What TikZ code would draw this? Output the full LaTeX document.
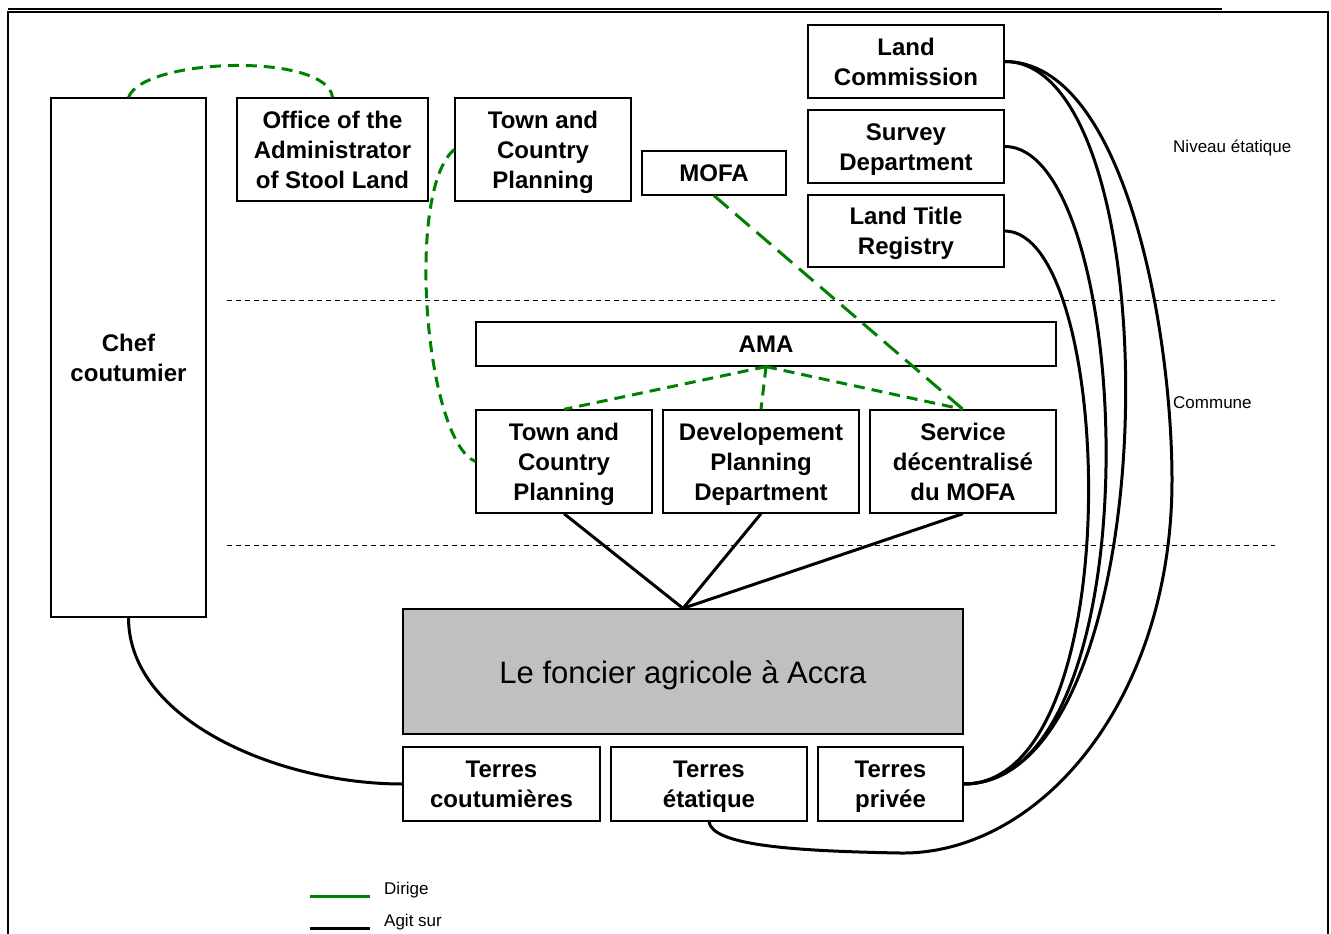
\documentclass[tikz,border=0pt]{standalone}
\usepackage{fontspec}
\setmainfont{Liberation Sans}
\definecolor{dgreen}{RGB}{0,128,0}
\definecolor{fgray}{RGB}{192,192,192}
\newcommand\boxlines[1]{\begin{tabular}[t]{@{}c@{}}\rule{0pt}{26.2pt}#1\end{tabular}}
\begin{document}
\begin{tikzpicture}[x=1pt,y=-1pt,
  box/.style={draw, line width=1.3pt, rectangle, inner sep=0pt,
    font=\bfseries\fontsize{24}{30}\selectfont},
  bigbox/.style={draw, line width=1.3pt, rectangle, inner sep=0pt, align=center,
    font=\fontsize{31}{36}\selectfont,
    execute at begin node={\rule{0pt}{30pt}},
    execute at end node={\rule[-6.8pt]{0pt}{6.8pt}}},
  dirige/.style={draw=dgreen, line width=3pt, dash pattern=on 11pt off 7pt},
  dirigelong/.style={draw=dgreen, line width=3pt, dash pattern=on 19pt off 9pt},
  agit/.style={draw=black, line width=3pt},
  sepline/.style={draw=black, line width=1pt, dash pattern=on 5pt off 4pt},
  small/.style={font=\fontsize{17}{20}\selectfont, inner sep=0pt, anchor=west},
  frame/.style={draw=black, line width=2pt}]
\useasboundingbox (0,0) rectangle (1331,934);
% frame
\coordinate (f1) at (8,934);
\coordinate (f2) at (8,12.5);
\coordinate (f3) at (1328,12.5);
\coordinate (f4) at (1328,934);
\coordinate (f5) at (8,9.5);
\coordinate (f6) at (1222,9.5);
\draw[frame] (f1) -- (f2) -- (f3) -- (f4);
\draw[frame] (f5) -- (f6);
% level separators
\coordinate (s1a) at (227,300);
\coordinate (s1b) at (1275,300);
\coordinate (s2a) at (227,545);
\coordinate (s2b) at (1275,545);
\draw[sepline] (s1a) -- (s1b);
\draw[sepline] (s2a) -- (s2b);
% nodes
\node[box, minimum width=155, minimum height=519] (chef) at (128.5,357.5) {\boxlines{Chef\\coutumier}};
\node[box, minimum width=191, minimum height=103] (office) at (332.5,149.5) {\boxlines{Office of the\\Administrator\\of Stool Land}};
\node[box, minimum width=176, minimum height=103] (tcp1) at (543,149.5) {\boxlines{Town and\\Country\\Planning}};
\node[box, minimum width=144, minimum height=44] (mofa) at (714,173) {\boxlines{MOFA}};
\node[box, minimum width=196, minimum height=73] (lc) at (906,61.5) {\boxlines{Land\\Commission}};
\node[box, minimum width=196, minimum height=73] (sd) at (906,146.5) {\boxlines{Survey\\Department}};
\node[box, minimum width=196, minimum height=72] (ltr) at (906,231) {\boxlines{Land Title\\Registry}};
\node[box, minimum width=580, minimum height=44] (ama) at (766,344) {\boxlines{AMA}};
\node[box, minimum width=176, minimum height=103] (tcp2) at (564,461.5) {\boxlines{Town and\\Country\\Planning}};
\node[box, minimum width=196, minimum height=103] (dpd) at (761,461.5) {\boxlines{Developement\\Planning\\Department}};
\node[box, minimum width=186, minimum height=103] (smofa) at (963,461.5) {\boxlines{Service\\décentralisé\\du MOFA}};
\node[bigbox, fill=fgray, minimum width=560, minimum height=125] (foncier) at (683,671.5) {Le foncier agricole à Accra};
\node[box, minimum width=197, minimum height=74] (tc) at (501.5,784) {\boxlines{Terres\\coutumières}};
\node[box, minimum width=196, minimum height=74] (te) at (709,784) {\boxlines{Terres\\étatique}};
\node[box, minimum width=145, minimum height=74] (tp) at (890.5,784) {\boxlines{Terres\\privée}};
% side labels
\node[small] (niv) at (1173,148) {Niveau étatique};
\node[small] (com) at (1173,403) {Commune};
% green connectors (Dirige)
\draw[dirige] (chef.north) .. controls +(15,-40) and +(-5,-45) .. (office.north);
\draw[dirige] (tcp1.west) .. controls (405,190) and (425,440) .. (tcp2.west);
\draw[dirigelong] (mofa.south) -- (smofa.north);
\draw[dirige] (ama.south) -- (tcp2.north);
\draw[dirige] (ama.south) -- (dpd.north);
\draw[dirige] (ama.south) -- (smofa.north);
% black connectors (Agit sur)
\draw[agit] (tcp2.south) -- (foncier.north);
\draw[agit] (dpd.south) -- (foncier.north);
\draw[agit] (smofa.south) -- (foncier.north);
\draw[agit] (chef.south) .. controls +(0,103) and +(-123,0) .. (tc.west);
\draw[agit] (ltr.east) .. controls +(110,0) and +(168,0) .. (tp.east);
\draw[agit] (sd.east) .. controls +(130,0) and +(195,0) .. (tp.east);
\draw[agit] (lc.east) .. controls +(170,0) and +(206,0) .. (tp.east);
\draw[agit] (lc.east) .. controls +(120,0) and (1172,330) .. (1172,480)
  .. controls (1172,700) and (1040,855) .. (900,853)
  .. controls (790,851) and (712,845) .. (te.south);
% legend
\coordinate (lg1a) at (310,896);
\coordinate (lg1b) at (370,896);
\coordinate (lg2a) at (310,928);
\coordinate (lg2b) at (370,928);
\draw[draw=dgreen, line width=3pt] (lg1a) -- (lg1b);
\draw[agit] (lg2a) -- (lg2b);
\node[small] (ldir) at (384,890) {Dirige};
\node[small] (lagit) at (384,922) {Agit sur};
\end{tikzpicture}
\end{document}
